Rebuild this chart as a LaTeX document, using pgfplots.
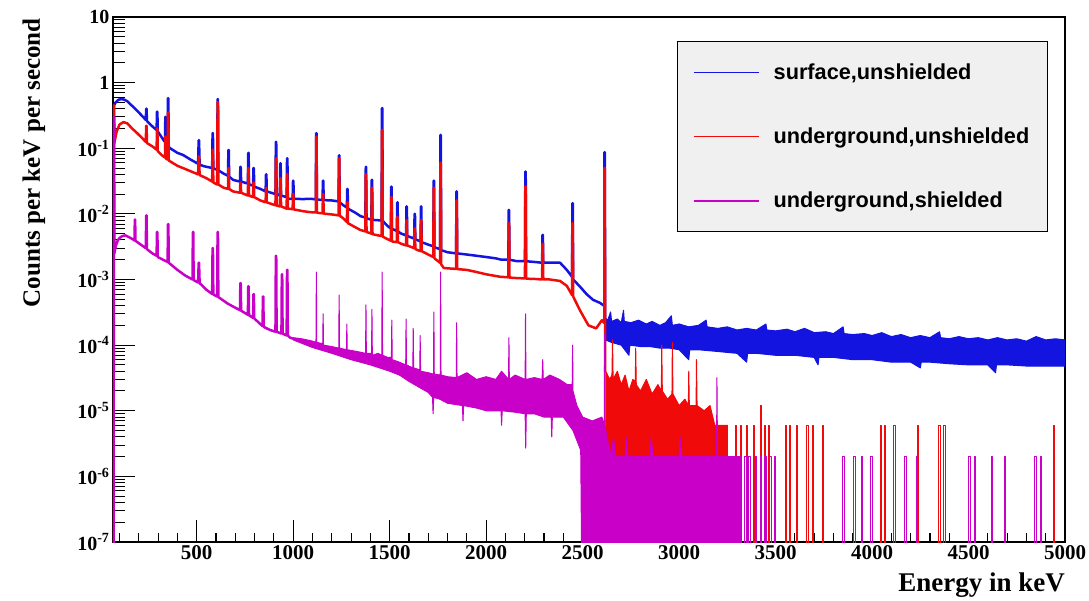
\documentclass[border=0pt]{standalone}
\usepackage{fontspec}
\setmainfont{Liberation Serif}
\newfontfamily\legfont{Liberation Sans}
\usepackage{pgfplots}
\pgfplotsset{compat=1.18}
\definecolor{hblue}{RGB}{20,20,225}
\definecolor{hred}{RGB}{240,10,10}
\definecolor{hmag}{RGB}{200,0,200}
\definecolor{legbg}{RGB}{240,240,240}
\begin{document}
\begin{tikzpicture}
\useasboundingbox (-113pt,-59pt) rectangle (976pt,542pt);
\begin{axis}[
  at={(0,0)}, anchor=south west,
  scale only axis, width=952pt, height=525pt,
  xmin=66, xmax=5000,
  ymode=log, log basis y=10, ymin=1e-7, ymax=10,
  xtick={500,1000,1500,2000,2500,3000,3500,4000,4500,5000},
  xticklabels={500,1000,1500,2000,2500,3000,3500,4000,4500,5000},
  minor xtick={100,200,...,4900},
  ytick={1e-7,1e-6,1e-5,1e-4,1e-3,1e-2,1e-1,1,10},
  yticklabels={10\textsuperscript{-7},10\textsuperscript{-6},10\textsuperscript{-5},10\textsuperscript{-4},10\textsuperscript{-3},10\textsuperscript{-2},10\textsuperscript{-1},1,10},
  extra y ticks={2e-7,3e-7,4e-7,5e-7,6e-7,7e-7,8e-7,9e-7,
               2e-6,3e-6,4e-6,5e-6,6e-6,7e-6,8e-6,9e-6,
               2e-5,3e-5,4e-5,5e-5,6e-5,7e-5,8e-5,9e-5,
               2e-4,3e-4,4e-4,5e-4,6e-4,7e-4,8e-4,9e-4,
               2e-3,3e-3,4e-3,5e-3,6e-3,7e-3,8e-3,9e-3,
               0.02,0.03,0.04,0.05,0.06,0.07,0.08,0.09,
               0.2,0.3,0.4,0.5,0.6,0.7,0.8,0.9,
               2,3,4,5,6,7,8,9},
  extra y tick labels={},
  extra y tick style={major tick length=12pt, tick style={line width=1pt}},
  tick align=inside, xtick pos=left, ytick pos=left,
  major tick length=22pt, minor tick length=9pt,
  tick style={black, line width=1.1pt},
  axis line style={line width=1.4pt},
  xticklabel style={font=\bfseries\fontsize{21}{21}\selectfont},
  yticklabel style={font=\bfseries\fontsize{20}{20}\selectfont},
  xlabel={Energy in keV},
  ylabel={Counts per keV per second},
  xlabel style={font=\bfseries\fontsize{27}{27}\selectfont, at={(axis description cs:1,-0.058)}, anchor=north east, inner sep=0pt},
  ylabel style={font=\bfseries\fontsize{25}{25}\selectfont, at={(axis description cs:-0.071,0.998)}, anchor=south east, inner sep=0pt},
  legend style={at={(axis description cs:0.982,0.954)}, anchor=north east,
    fill=legbg, draw=black, line width=1.2pt,
    font=\legfont\bfseries\fontsize{21.7}{21.7}\selectfont,
    inner xsep=16pt, inner ysep=20pt, row sep=43pt,
    /tikz/every odd column/.append style={column sep=12pt}},
  legend cell align=left,
  legend image code/.code={\draw[#1] (0pt,0pt) -- (65pt,0pt);},
  every axis plot/.append style={line join=round, forget plot},
]
% surface, unshielded
\addplot[hblue, line width=2.5pt] coordinates {
(66,4e-5)(70,4e-5)(71,0.45)(80,0.50)(95,0.55)(110,0.56)(125,0.55)(140,0.52)(155,0.47)(170,0.43)(200,0.35)(222,0.30)
(236,0.27)(238,0.40)(240,0.40)(242,0.26)(260,0.23)(274,0.21)
(292,0.19)(294,0.36)(296,0.36)(298,0.18)(310,0.16)(330,0.13)
(336,0.125)(337,0.30)(339,0.30)(340,0.12)
(349,0.11)(351,0.58)(353,0.58)(355,0.105)(362,0.10)(400,0.085)(429,0.079)(465,0.068)
(507,0.058)(510,0.133)(512,0.133)(515,0.056)(540,0.053)
(580,0.050)(582,0.17)(584,0.17)(586,0.049)
(606,0.047)(608,0.56)(610,0.56)(612,0.046)(640,0.041)
(662,0.038)(664,0.094)(666,0.094)(668,0.037)(688,0.033)
(724,0.031)(726,0.052)(728,0.052)(730,0.031)
(765,0.029)(767,0.085)(769,0.085)(771,0.028)
(792,0.027)(794,0.05)(796,0.05)(798,0.026)(830,0.024)
(857,0.022)(859,0.04)(861,0.04)(863,0.022)(885,0.021)
(908,0.020)(910,0.125)(912,0.125)(914,0.020)
(931,0.019)(933,0.059)(935,0.059)(937,0.019)
(966,0.018)(968,0.07)(970,0.07)(972,0.017)
(997,0.017)(999,0.032)(1001,0.032)(1003,0.017)(1050,0.0168)(1090,0.017)
(1117,0.0166)(1119,0.17)(1121,0.17)(1123,0.0165)
(1152,0.0163)(1154,0.032)(1156,0.032)(1158,0.0162)(1200,0.016)
(1235,0.0155)(1237,0.078)(1239,0.078)(1241,0.015)(1260,0.0135)
(1278,0.0125)(1280,0.024)(1282,0.024)(1284,0.012)(1320,0.0105)(1350,0.0092)
(1374,0.0088)(1376,0.052)(1378,0.052)(1380,0.0086)(1395,0.0083)
(1405,0.0082)(1407,0.033)(1409,0.033)(1411,0.0081)(1440,0.0080)
(1458,0.0079)(1460,0.41)(1462,0.41)(1464,0.0078)(1490,0.0065)
(1506,0.0060)(1508,0.026)(1510,0.026)(1512,0.0059)
(1537,0.0055)(1539,0.015)(1541,0.015)(1543,0.0054)(1560,0.0050)
(1585,0.0047)(1587,0.013)(1589,0.013)(1591,0.0046)
(1627,0.0042)(1629,0.010)(1631,0.010)(1633,0.0041)
(1660,0.0038)(1662,0.013)(1664,0.013)(1666,0.0037)(1700,0.0034)
(1726,0.0032)(1728,0.032)(1730,0.032)(1732,0.0031)
(1761,0.0029)(1763,0.16)(1765,0.16)(1767,0.0028)(1800,0.0026)
(1844,0.0025)(1846,0.022)(1848,0.022)(1850,0.0025)
(1900,0.0024)(1950,0.0023)(2000,0.0022)(2050,0.0021)(2080,0.0020)
(2115,0.0020)(2117,0.0115)(2119,0.0115)(2121,0.0020)(2160,0.0019)
(2201,0.0019)(2203,0.044)(2205,0.044)(2207,0.0019)(2250,0.00185)
(2290,0.0018)(2292,0.0048)(2294,0.0048)(2296,0.0018)
(2340,0.0018)(2383,0.0018)(2418,0.0014)
(2445,0.0011)(2447,0.0145)(2449,0.0145)(2451,0.0010)
(2486,0.00078)(2520,0.00060)(2554,0.00049)(2590,0.00044)(2610,0.0004)
(2612,0.0004)(2613,0.087)(2615,0.087)(2617,0.00022)(2618,0.00018)
};
\addplot[hblue, fill=hblue, line width=1pt] coordinates {
(2618,2.6e-4)(2630,2.4e-4)(2645,3.2e-4)(2650,2.3e-4)(2680,2.5e-4)(2700,2.2e-4)(2712,3.4e-4)(2716,2.3e-4)
(2750,2.2e-4)(2790,2.4e-4)(2830,2.1e-4)(2860,2.3e-4)(2900,2.0e-4)(2930,2.2e-4)(2960,2.8e-4)(2965,2.0e-4)
(3000,2.1e-4)(3050,1.9e-4)(3100,2.0e-4)(3140,2.4e-4)(3145,1.9e-4)(3200,1.8e-4)(3250,1.9e-4)(3300,1.7e-4)
(3350,1.8e-4)(3400,1.7e-4)(3450,2.1e-4)(3455,1.7e-4)(3500,1.65e-4)(3560,1.75e-4)(3600,1.6e-4)(3650,1.8e-4)
(3700,1.55e-4)(3760,1.6e-4)(3800,1.5e-4)(3850,1.9e-4)(3855,1.5e-4)(3900,1.45e-4)(3960,1.5e-4)(4000,1.4e-4)
(4050,1.55e-4)(4100,1.35e-4)(4150,1.45e-4)(4200,1.3e-4)(4250,1.4e-4)(4300,1.3e-4)(4350,1.6e-4)(4355,1.3e-4)
(4400,1.25e-4)(4450,1.35e-4)(4500,1.25e-4)(4550,1.3e-4)(4600,1.2e-4)(4650,1.3e-4)(4700,1.2e-4)(4750,1.25e-4)
(4800,1.15e-4)(4850,1.35e-4)(4900,1.2e-4)(4950,1.25e-4)(5000,1.2e-4)
(5000,4.8e-5)(4900,4.8e-5)(4800,4.8e-5)(4700,5e-5)(4645,5e-5)(4640,3.8e-5)(4600,5e-5)(4500,5e-5)
(4400,5.2e-5)(4300,5.5e-5)(4255,5.5e-5)(4250,4.5e-5)(4200,5.5e-5)(4100,5.5e-5)(4000,6e-5)(3900,6e-5)
(3800,6.5e-5)(3725,6.5e-5)(3720,5e-5)(3700,6.5e-5)(3600,7e-5)(3500,7e-5)(3400,7.5e-5)(3355,7.5e-5)
(3350,5.5e-5)(3300,7.5e-5)(3200,8e-5)(3100,8.5e-5)(3055,8.5e-5)(3050,6e-5)(3000,8.5e-5)(2950,9e-5)
(2900,9e-5)(2850,9.5e-5)(2800,9.5e-5)(2745,1.0e-4)(2740,7e-5)(2700,1.0e-4)(2650,1.1e-4)(2618,1.2e-4)
};
% underground, unshielded
\addplot[hred, line width=2.5pt] coordinates {
(66,1e-9)(69,1e-9)(70,0.45)(72,0.45)(73,0.12)(85,0.18)(100,0.23)(120,0.25)(140,0.24)(165,0.20)(191,0.17)(220,0.14)
(236,0.125)(238,0.22)(240,0.22)(242,0.12)(274,0.105)
(292,0.095)(294,0.20)(296,0.20)(298,0.09)(320,0.078)
(336,0.072)(337,0.15)(339,0.15)(340,0.07)
(349,0.067)(351,0.35)(353,0.35)(355,0.065)(400,0.054)(450,0.047)
(507,0.040)(510,0.075)(512,0.075)(515,0.039)(550,0.035)
(580,0.031)(582,0.095)(584,0.095)(586,0.030)
(606,0.028)(608,0.50)(610,0.50)(612,0.028)(640,0.025)
(662,0.024)(664,0.05)(666,0.05)(668,0.024)(688,0.022)
(724,0.021)(726,0.03)(728,0.03)(730,0.021)
(765,0.019)(767,0.05)(769,0.05)(771,0.019)
(792,0.018)(794,0.03)(796,0.03)(798,0.018)(830,0.016)
(857,0.015)(859,0.025)(861,0.025)(863,0.015)
(908,0.0135)(910,0.07)(912,0.07)(914,0.0134)
(931,0.013)(933,0.035)(935,0.035)(937,0.013)
(966,0.012)(968,0.04)(970,0.04)(972,0.012)
(997,0.0118)(999,0.02)(1001,0.02)(1003,0.0117)(1050,0.011)(1090,0.0106)
(1117,0.0105)(1119,0.15)(1121,0.15)(1123,0.0104)
(1152,0.0102)(1154,0.02)(1156,0.02)(1158,0.0101)(1200,0.0098)
(1235,0.0095)(1237,0.07)(1239,0.07)(1241,0.0094)(1260,0.0085)
(1278,0.0075)(1280,0.015)(1282,0.015)(1284,0.0072)(1320,0.0063)(1347,0.0057)
(1374,0.0054)(1376,0.04)(1378,0.04)(1380,0.0053)
(1405,0.0050)(1407,0.025)(1409,0.025)(1411,0.0049)(1440,0.0047)
(1458,0.0046)(1460,0.19)(1462,0.19)(1464,0.0045)(1490,0.0041)
(1506,0.0039)(1508,0.018)(1510,0.018)(1512,0.0038)
(1537,0.0037)(1539,0.009)(1541,0.009)(1543,0.0037)(1560,0.0035)
(1585,0.0033)(1587,0.008)(1589,0.008)(1591,0.0033)
(1627,0.0030)(1629,0.006)(1631,0.006)(1633,0.0029)
(1660,0.0027)(1662,0.008)(1664,0.008)(1666,0.0027)(1700,0.0024)
(1726,0.0022)(1728,0.025)(1730,0.025)(1732,0.0021)
(1761,0.0018)(1763,0.06)(1765,0.06)(1767,0.0017)(1780,0.0015)(1800,0.00148)
(1844,0.00145)(1846,0.016)(1848,0.016)(1850,0.00144)
(1900,0.0014)(1950,0.0013)(2000,0.0012)(2073,0.0011)
(2115,0.00108)(2117,0.0072)(2119,0.0072)(2121,0.00107)(2160,0.00105)
(2201,0.00104)(2203,0.026)(2205,0.026)(2207,0.00103)(2250,0.00102)
(2290,0.0010)(2292,0.0035)(2294,0.0035)(2296,0.0010)
(2330,0.0010)(2383,0.00095)(2418,0.0008)
(2445,0.00058)(2447,0.0072)(2449,0.0072)(2451,0.00055)
(2486,0.00034)(2530,0.0002)(2570,0.00018)(2600,0.00024)(2610,0.00022)
(2612,0.00022)(2613,0.05)(2615,0.05)(2617,4e-5)(2620,4e-5)
};
\addplot[hred, fill=hred, line width=1pt] coordinates {
(2620,1e-9)(2620,4e-5)(2640,3e-5)(2652,3.5e-5)(2655,1.2e-4)(2658,3e-5)(2680,4e-5)(2700,2.5e-5)(2720,3.5e-5)
(2740,2e-5)(2760,3e-5)(2773,2.8e-5)(2775,9e-5)(2778,2.5e-5)(2800,2e-5)(2830,3e-5)(2860,1.8e-5)(2890,2.5e-5)
(2908,2e-5)(2910,1e-4)(2913,2e-5)(2940,1.5e-5)(2963,1.8e-5)(2965,1.1e-4)(2968,1.8e-5)(3000,1.2e-5)(3030,1.5e-5)
(3048,1.2e-5)(3050,4e-5)(3053,1.2e-5)(3088,1.2e-5)(3090,6e-5)(3093,1.2e-5)(3130,1e-5)(3160,1.2e-5)(3185,6e-6)
(3250,6e-6)(3250,1e-9)
};
\addplot[hred, line width=1pt] coordinates {
(3290,1e-9)(3290,6e-6)(3297,6e-6)(3297,1e-9)
(3316,1e-9)(3316,6e-6)(3323,6e-6)(3323,1e-9)
(3350,1e-9)(3350,6e-6)(3357,6e-6)(3357,1e-9)
(3385,1e-9)(3385,6e-6)(3392,6e-6)(3392,1e-9)
(3420,1e-9)(3420,1.2e-5)(3427,1.2e-5)(3427,1e-9)
(3440,1e-9)(3440,6e-6)(3447,6e-6)(3447,1e-9)
(3462,1e-9)(3462,6e-6)(3469,6e-6)(3469,1e-9)
(3549,1e-9)(3549,6e-6)(3556,6e-6)(3556,1e-9)
(3570,1e-9)(3570,6e-6)(3577,6e-6)(3577,1e-9)
(3609,1e-9)(3609,6e-6)(3616,6e-6)(3616,1e-9)
(3661,1e-9)(3661,6e-6)(3668,6e-6)(3668,1e-9)
(3692,1e-9)(3692,6e-6)(3699,6e-6)(3699,1e-9)
(3741,1e-9)(3741,6e-6)(3748,6e-6)(3748,1e-9)
(4043,1e-9)(4043,6e-6)(4050,6e-6)(4050,1e-9)
(4063,1e-9)(4063,6e-6)(4070,6e-6)(4070,1e-9)
(4112,1e-9)(4112,6e-6)(4119,6e-6)(4119,1e-9)
(4235,1e-9)(4235,6e-6)(4242,6e-6)(4242,1e-9)
(4346,1e-9)(4346,6e-6)(4353,6e-6)(4353,1e-9)
(4371,1e-9)(4371,6e-6)(4378,6e-6)(4378,1e-9)
(4941,1e-9)(4941,6e-6)(4948,6e-6)(4948,1e-9)
};
% underground, shielded
\addplot[hmag, line width=2.5pt] coordinates {
(66,1e-9)(69,1e-9)(70,0.3)(72,0.3)(73,2.5e-3)(80,3.2e-3)(90,3.9e-3)(100,4.3e-3)(115,4.6e-3)(130,4.7e-3)(150,4.4e-3)(175,4.0e-3)
(178,3.9e-3)(179,8.2e-3)(181,8.2e-3)(182,3.9e-3)(210,3.4e-3)
(236,3.0e-3)(238,9.5e-3)(240,9.5e-3)(242,2.9e-3)(270,2.5e-3)
(292,2.3e-3)(294,5.3e-3)(296,5.3e-3)(298,2.2e-3)(326,2.0e-3)
(349,1.85e-3)(351,7.0e-3)(353,7.0e-3)(355,1.8e-3)(400,1.4e-3)(440,1.15e-3)
(478,1.0e-3)(480,5.3e-3)(482,5.3e-3)(484,0.98e-3)
(507,9e-4)(510,1.8e-3)(512,1.8e-3)(515,8.8e-4)(550,7e-4)
(580,6e-4)(582,3e-3)(584,3e-3)(586,5.9e-4)
(606,5.5e-4)(608,5.3e-3)(610,5.3e-3)(612,5.4e-4)(660,4.3e-4)
(724,3.4e-4)(726,8.8e-4)(728,8.8e-4)(730,3.35e-4)
(765,2.9e-4)(767,7.9e-4)(769,7.9e-4)(771,2.85e-4)
(792,2.6e-4)(794,6e-4)(796,6e-4)(798,2.55e-4)
(841,1.95e-4)(843,5.5e-4)(845,5.5e-4)(847,1.9e-4)(880,1.7e-4)
(908,1.6e-4)(910,2.3e-3)(912,2.3e-3)(914,1.6e-4)
(939,1.5e-4)(941,1.2e-3)(943,1.2e-3)(945,1.5e-4)
(966,1.4e-4)(968,1.4e-3)(970,1.4e-3)(972,1.4e-4)(984,1.3e-4)(1000,1.25e-4)
};
\addplot[hmag, fill=hmag, line width=1pt] coordinates {
(1000,1.3e-4)(1050,1.24e-4)(1100,1.15e-4)(1118,1.1e-4)(1120,1.3e-3)(1122,1.1e-4)(1153,1.05e-4)(1155,3e-4)(1157,1.0e-4)
(1200,9.5e-5)(1236,9e-5)(1238,5.8e-4)(1240,9e-5)(1276,8.5e-5)(1278,2.1e-4)(1280,8.5e-5)(1330,8e-5)
(1375,7.5e-5)(1377,4.1e-4)(1379,7.5e-5)(1406,7.5e-5)(1408,3.5e-4)(1410,7e-5)(1440,7.5e-5)
(1459,7e-5)(1461,1.3e-3)(1463,7e-5)(1490,6.5e-5)(1509,6.5e-5)(1511,2.4e-4)(1513,6e-5)(1550,5.5e-5)
(1583,5e-5)(1585,2.5e-4)(1587,5e-5)(1620,4.5e-5)(1622,1.8e-4)(1624,4.5e-5)(1656,4.2e-5)(1658,1.4e-4)(1660,4e-5)
(1700,3.8e-5)(1727,3.6e-5)(1729,3.2e-4)(1731,3.6e-5)(1762,3.5e-5)(1764,1.3e-3)(1766,3.5e-5)(1800,3.3e-5)
(1845,3.2e-5)(1847,2.2e-4)(1849,3.2e-5)(1900,3.8e-5)(1950,3e-5)(2000,3.3e-5)(2050,3e-5)(2080,4e-5)
(2116,3e-5)(2118,1.3e-4)(2120,3e-5)(2150,3.5e-5)(2202,3e-5)(2204,3e-4)(2206,3e-5)(2250,3.2e-5)
(2290,3e-5)(2293,6e-5)(2296,3e-5)(2330,3.5e-5)(2380,3e-5)(2420,2.5e-5)(2446,2.5e-5)(2448,1e-4)(2450,2e-5)
(2470,1.2e-5)(2500,8e-6)(2550,7e-6)(2600,8e-6)(2612,6e-6)(2614,1.5e-4)(2616,6e-6)(2625,4e-6)
(2650,2e-6)(2660,4e-6)(2670,2e-6)(2720,2e-6)(2725,4e-6)(2735,2e-6)(2850,2e-6)(2855,4e-6)(2865,2e-6)
(3000,2e-6)(3005,4e-6)(3015,2e-6)(3194,2e-6)(3196,3.2e-5)(3199,2e-6)(3317,2e-6)(3317,1e-9)(2500,1e-9)
(2490,2.5e-6)(2450,5e-6)(2400,8e-6)(2343,8e-6)(2340,4e-6)(2337,8e-6)(2300,8e-6)(2250,9e-6)
(2208,9e-6)(2205,2.7e-6)(2202,9e-6)(2150,9.5e-6)(2083,1e-5)(2080,6e-6)(2077,1e-5)(2000,1e-5)(1950,1.1e-5)
(1883,1.2e-5)(1880,7e-6)(1877,1.2e-5)(1800,1.3e-5)(1760,1.5e-5)(1728,1.6e-5)(1725,9e-6)(1722,1.6e-5)
(1700,1.9e-5)(1650,2.3e-5)(1600,2.8e-5)(1550,3.5e-5)(1500,4e-5)(1400,5e-5)(1300,6e-5)(1200,7.5e-5)
(1100,9.2e-5)(1000,1.2e-4)
};
\addplot[hmag, line width=1pt] coordinates {
(3340,1e-9)(3340,2e-6)(3347,2e-6)(3347,1e-9)
(3362,1e-9)(3362,2e-6)(3369,2e-6)(3369,1e-9)
(3395,1e-9)(3395,2e-6)(3402,2e-6)(3402,1e-9)
(3420,1e-9)(3420,2e-6)(3427,2e-6)(3427,1e-9)
(3445,1e-9)(3445,2e-6)(3452,2e-6)(3452,1e-9)
(3470,1e-9)(3470,2e-6)(3477,2e-6)(3477,1e-9)
(3495,1e-9)(3495,2e-6)(3502,2e-6)(3502,1e-9)
(3848,1e-9)(3848,2e-6)(3855,2e-6)(3855,1e-9)
(3906,1e-9)(3906,2e-6)(3913,2e-6)(3913,1e-9)
(3946,1e-9)(3946,2e-6)(3953,2e-6)(3953,1e-9)
(3994,1e-9)(3994,2e-6)(4001,2e-6)(4001,1e-9)
(4170,1e-9)(4170,2e-6)(4177,2e-6)(4177,1e-9)
(4229,1e-9)(4229,2e-6)(4236,2e-6)(4236,1e-9)
(4502,1e-9)(4502,2e-6)(4509,2e-6)(4509,1e-9)
(4531,1e-9)(4531,2e-6)(4538,2e-6)(4538,1e-9)
(4619,1e-9)(4619,2e-6)(4626,2e-6)(4626,1e-9)
(4687,1e-9)(4687,2e-6)(4694,2e-6)(4694,1e-9)
(4843,1e-9)(4843,2e-6)(4850,2e-6)(4850,1e-9)
(4873,1e-9)(4873,2e-6)(4880,2e-6)(4880,1e-9)
};
\addlegendimage{hblue, line width=1.5pt}
\addlegendentry{surface,unshielded}
\addlegendimage{hred, line width=1.5pt}
\addlegendentry{underground,unshielded}
\addlegendimage{hmag, line width=1.5pt}
\addlegendentry{underground,shielded}
\end{axis}
\end{tikzpicture}
\end{document}
